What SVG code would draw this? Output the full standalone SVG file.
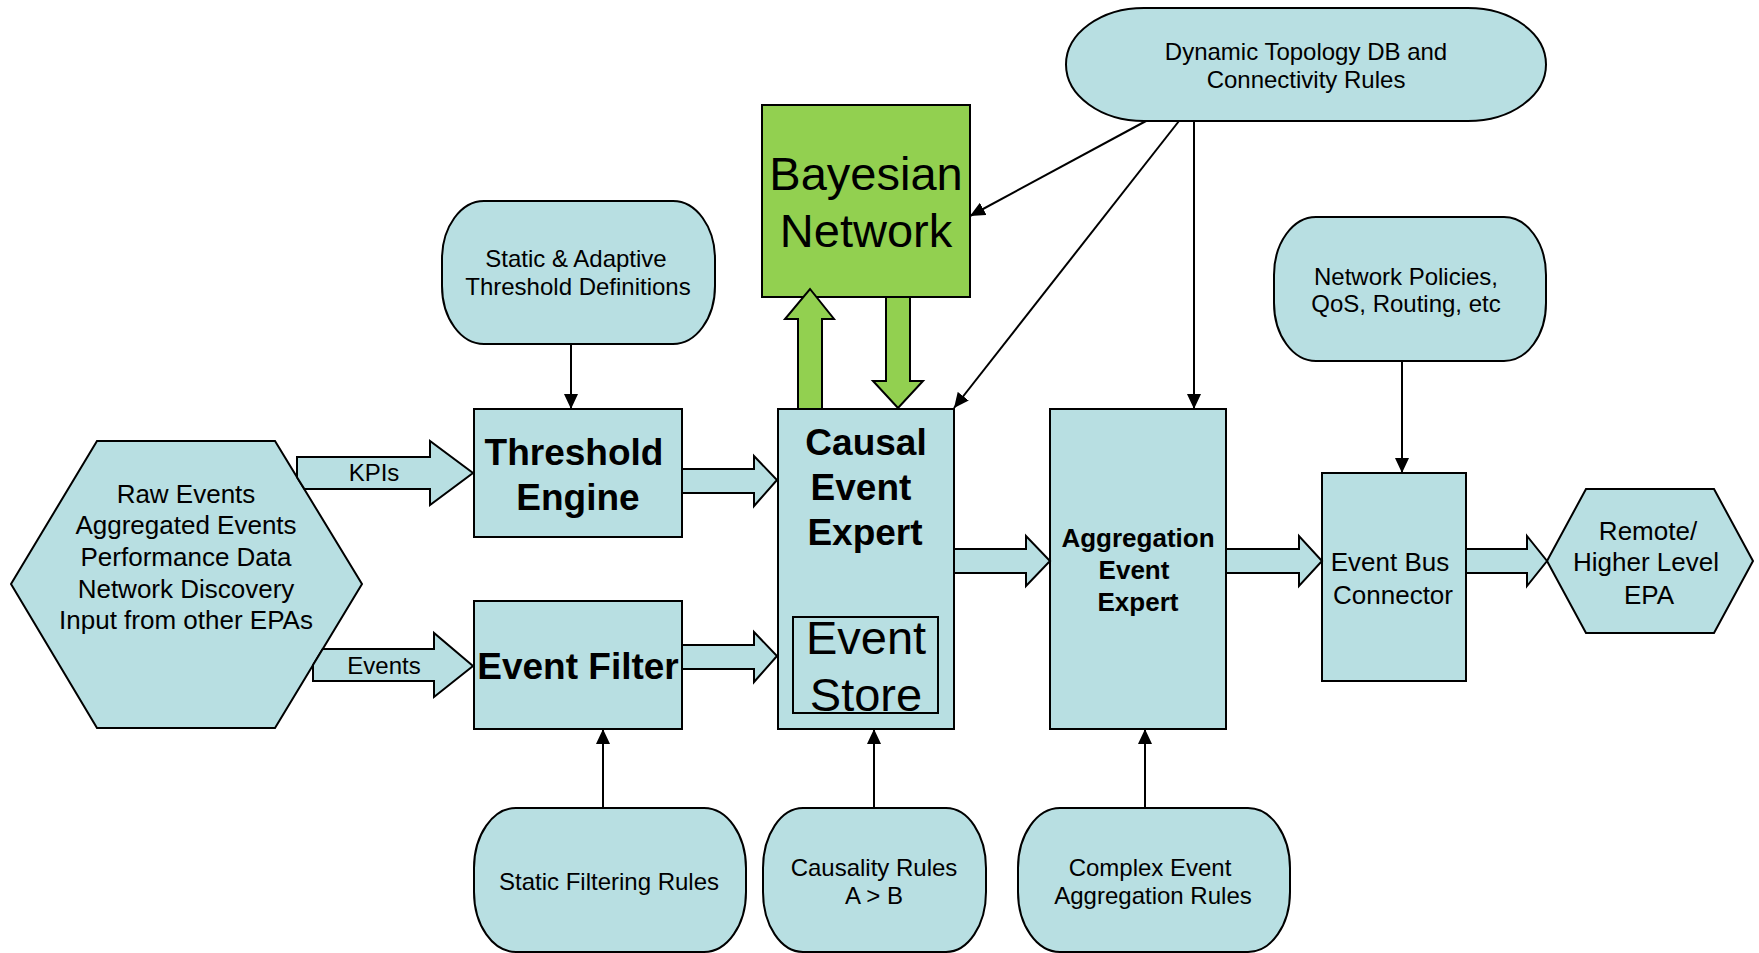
<svg xmlns="http://www.w3.org/2000/svg" width="1759" height="953" viewBox="0 0 1759 953">
<defs>
<style>
.n{fill:#B8DFE2;stroke:#000;stroke-width:2}
.g{fill:#92D050;stroke:#000;stroke-width:2}
.t{font-family:"Liberation Sans",Arial,sans-serif;fill:#000;text-anchor:middle}
.b{font-weight:bold}
.ln{fill:none;stroke:#000;stroke-width:2;marker-end:url(#ah)}
.ba{fill:#B8DFE2;stroke:#000;stroke-width:2;stroke-linejoin:miter}
</style>
<marker id="ah" markerUnits="userSpaceOnUse" markerWidth="15" markerHeight="14" refX="15" refY="7" orient="auto">
<path d="M0,0 L15,7 L0,14 z" fill="#000"/>
</marker>
</defs>
<rect width="1759" height="953" fill="#fff"/>

<g id="inputs">
<polygon class="n" points="11,584 97,441 275,441 362,584 275,728 97,728"/>
<text class="t" font-size="26"><tspan x="186" y="503">Raw Events</tspan><tspan x="186" y="534">Aggregated Events</tspan><tspan x="186" y="566">Performance Data</tspan><tspan x="186" y="598">Network Discovery</tspan><tspan x="186" y="629">Input from other EPAs</tspan></text>
</g>

<g id="threshold-defs">
<path class="n" d="M484,201 H673 A42 58 0 0 1 715,259 V286 A42 58 0 0 1 673,344 H484 A42 58 0 0 1 442,286 V259 A42 58 0 0 1 484,201 Z"/>
<text class="t" font-size="24"><tspan x="576" y="267">Static &amp; Adaptive</tspan><tspan x="578" y="295">Threshold Definitions</tspan></text>
</g>

<g id="threshold-engine">
<rect class="n" x="474" y="409" width="208" height="128"/>
<text class="t b" font-size="37"><tspan x="574" y="465">Threshold</tspan><tspan x="578" y="510">Engine</tspan></text>
</g>

<g id="event-filter">
<rect class="n" x="474" y="601" width="208" height="128"/>
<text class="t b" font-size="37" x="578" y="679">Event Filter</text>
</g>

<g id="bayesian">
<rect class="g" x="762" y="105" width="208" height="192"/>
<text class="t" font-size="47"><tspan x="866" y="190">Bayesian</tspan><tspan x="866" y="247">Network</tspan></text>
</g>

<g id="causal-expert">
<rect class="n" x="778" y="409" width="176" height="320"/>
<text class="t b" font-size="37"><tspan x="866" y="455">Causal</tspan><tspan x="861" y="500">Event</tspan><tspan x="865" y="545">Expert</tspan></text>
<rect x="793" y="617" width="145" height="96" fill="none" stroke="#000" stroke-width="2"/>
<text class="t" font-size="47"><tspan x="866" y="654">Event</tspan><tspan x="866" y="711">Store</tspan></text>
</g>

<g id="topology">
<path class="n" d="M1144,8 H1468 A78 56.5 0 0 1 1468,121 H1144 A78 56.5 0 0 1 1144,8 Z"/>
<text class="t" font-size="24"><tspan x="1306" y="60">Dynamic Topology DB and</tspan><tspan x="1306" y="88">Connectivity Rules</tspan></text>
</g>

<g id="policies">
<path class="n" d="M1316,217 H1504 A42 58 0 0 1 1546,275 V303 A42 58 0 0 1 1504,361 H1316 A42 58 0 0 1 1274,303 V275 A42 58 0 0 1 1316,217 Z"/>
<text class="t" font-size="24"><tspan x="1406" y="285">Network Policies,</tspan><tspan x="1406" y="312">QoS, Routing, etc</tspan></text>
</g>

<g id="aggregation-expert">
<rect class="n" x="1050" y="409" width="176" height="320"/>
<text class="t b" font-size="26"><tspan x="1138" y="547">Aggregation</tspan><tspan x="1134" y="579">Event</tspan><tspan x="1138" y="611">Expert</tspan></text>
</g>

<g id="event-bus">
<rect class="n" x="1322" y="473" width="144" height="208"/>
<text class="t" font-size="26"><tspan x="1390" y="571">Event Bus</tspan><tspan x="1393" y="604">Connector</tspan></text>
</g>

<g id="remote-epa">
<polygon class="n" points="1547,561 1586,489 1714,489 1753,561 1714,633 1586,633"/>
<text class="t" font-size="26"><tspan x="1648" y="540">Remote/</tspan><tspan x="1646" y="571">Higher Level</tspan><tspan x="1649" y="604">EPA</tspan></text>
</g>

<g id="filtering-rules">
<path class="n" d="M516,808 H704 A42 60 0 0 1 746,868 V892 A42 60 0 0 1 704,952 H516 A42 60 0 0 1 474,892 V868 A42 60 0 0 1 516,808 Z"/>
<text class="t" font-size="24" x="609" y="890">Static Filtering Rules</text>
</g>

<g id="causality-rules">
<path class="n" d="M803,808 H946 A40 60 0 0 1 986,868 V892 A40 60 0 0 1 946,952 H803 A40 60 0 0 1 763,892 V868 A40 60 0 0 1 803,808 Z"/>
<text class="t" font-size="24"><tspan x="874" y="876">Causality Rules</tspan><tspan x="874" y="904">A &gt; B</tspan></text>
</g>

<g id="aggregation-rules">
<path class="n" d="M1060,808 H1248 A42 60 0 0 1 1290,868 V892 A42 60 0 0 1 1248,952 H1060 A42 60 0 0 1 1018,892 V868 A42 60 0 0 1 1060,808 Z"/>
<text class="t" font-size="24"><tspan x="1150" y="876">Complex Event</tspan><tspan x="1153" y="904">Aggregation Rules</tspan></text>
</g>

<g id="connectors">
<polygon class="ba" points="297,457 430,457 430,441 473,473 430,505 430,489 304.4,489 297,477.3"/>
<text class="t" font-size="24" x="374" y="481">KPIs</text>
<polygon class="ba" points="322.7,649 434,649 434,633 473,666 434,697 434,681 313,681 313,665.1"/>
<text class="t" font-size="24" x="384" y="674">Events</text>
<polygon class="ba" points="682,469 754,469 754,456 777,480 754,506 754,493 682,493"/>
<polygon class="ba" points="682,645 754,645 754,632 777,656 754,682 754,669 682,669"/>
<polygon class="ba" points="954,549 1026,549 1026,536 1050,561 1026,586 1026,573 954,573"/>
<polygon class="ba" points="1226,549 1299,549 1299,536 1322,561 1299,586 1299,573 1226,573"/>
<polygon class="ba" points="1466,549 1527,549 1527,536 1547,561 1527,586 1527,573 1466,573"/>
<polygon class="g" points="798,409 798,319 785,319 810,289 834,319 822,319 822,409"/>
<polygon class="g" points="886,297 886,381 873,381 898,408 923,381 910,381 910,297"/>
<line class="ln" x1="571" y1="344" x2="571" y2="409"/>
<line class="ln" x1="1146" y1="121" x2="970" y2="216"/>
<line class="ln" x1="1179" y1="121" x2="954" y2="408"/>
<line class="ln" x1="1194" y1="121" x2="1194" y2="409"/>
<line class="ln" x1="1402" y1="361" x2="1402" y2="473"/>
<line class="ln" x1="603" y1="808" x2="603" y2="729"/>
<line class="ln" x1="874" y1="808" x2="874" y2="729"/>
<line class="ln" x1="1145" y1="808" x2="1145" y2="729"/>
</g>
</svg>
